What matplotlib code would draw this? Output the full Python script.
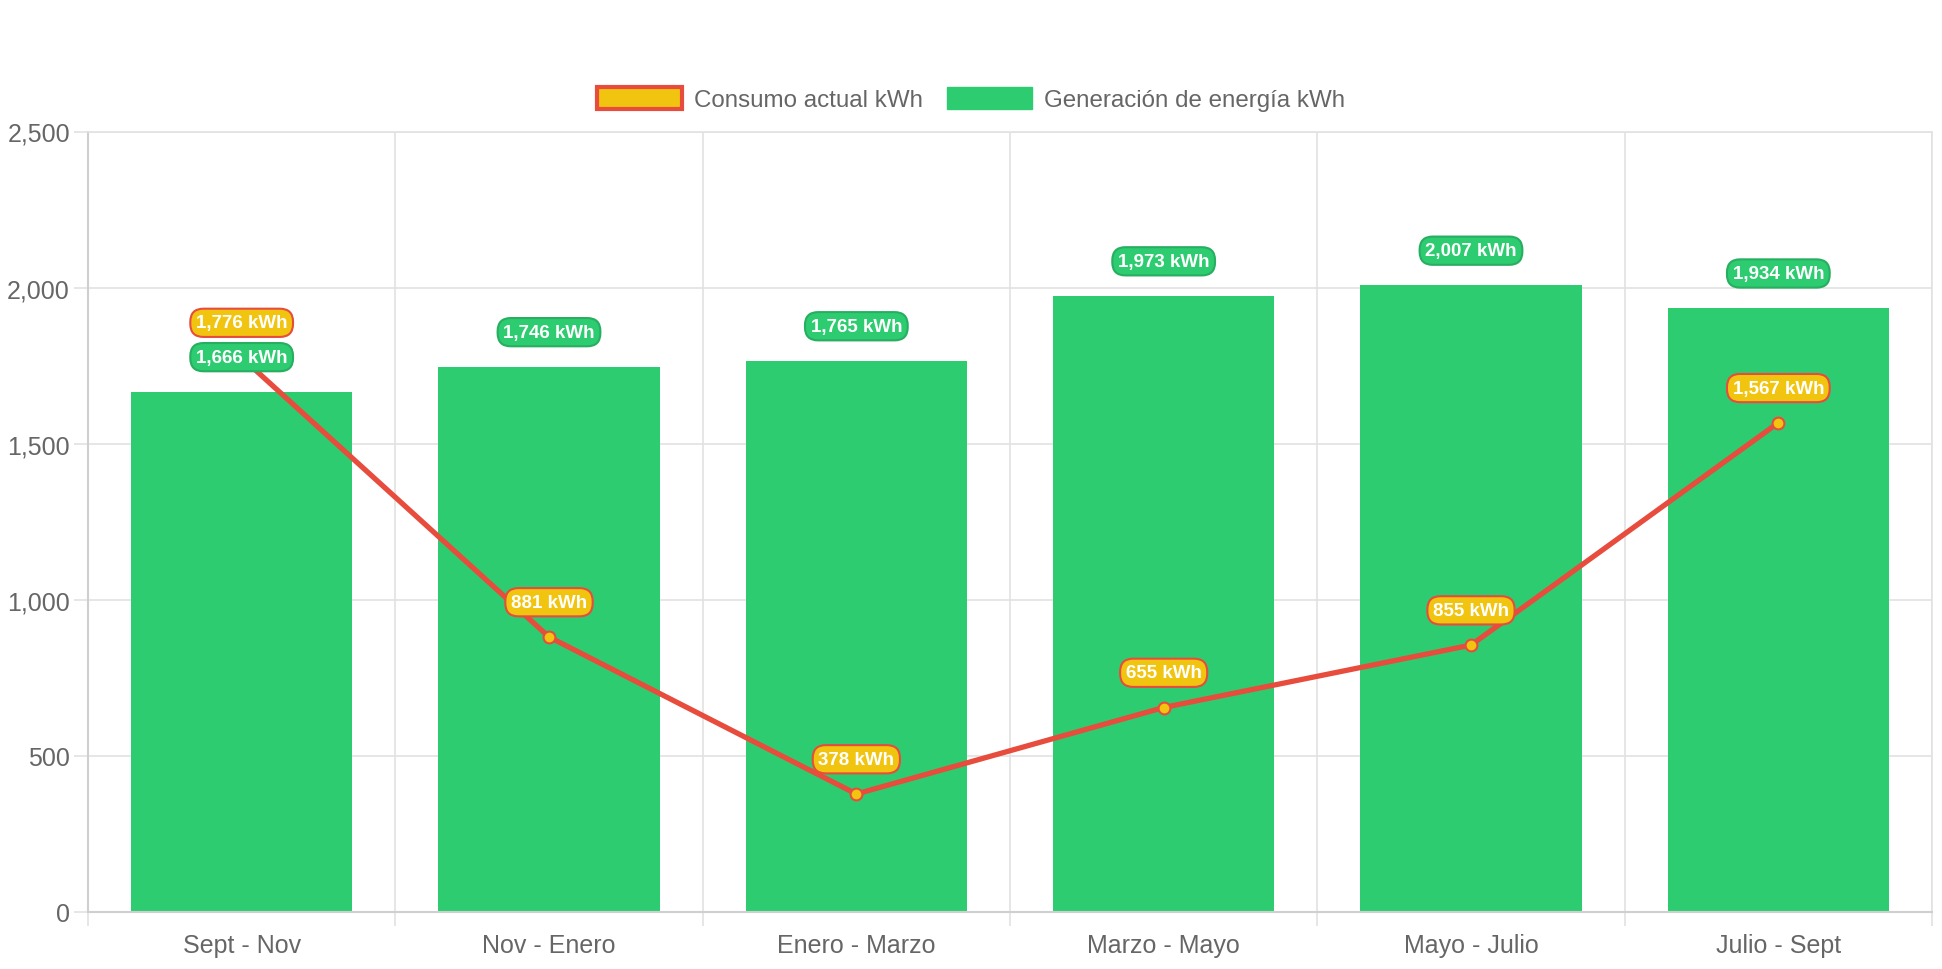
import matplotlib
matplotlib.use("Agg")
import matplotlib.pyplot as plt
from matplotlib.patches import Patch
import numpy as np

# Data
periodos = ["Sept - Nov", "Nov - Enero", "Enero - Marzo", "Marzo - Mayo", "Mayo - Julio", "Julio - Sept"]
generacion = [1666, 1746, 1765, 1973, 2007, 1934]
consumo = [1776, 881, 378, 655, 855, 1567]

verde = "#2ecc71"
verde_borde = "#27ae60"
amarillo = "#f1c40f"
rojo = "#e74c3c"
gris_txt = "#666666"
gris_grid = "#e2e2e2"

plt.rcParams["font.family"] = ["Liberation Sans", "DejaVu Sans"]

fig = plt.figure(figsize=(19.42, 9.70), dpi=100)
ax = fig.add_axes([88 / 1942, 1 - 913 / 970, (1932 - 88) / 1942, (913 - 132.5) / 970])

x = np.arange(len(periodos))
ax.bar(x, generacion, width=0.72, color=verde, zorder=2)
ax.plot(x, consumo, color=rojo, linewidth=3.8, marker="o", markersize=8.5,
        markerfacecolor=amarillo, markeredgecolor=rojo, markeredgewidth=1.5, zorder=3)

def etiqueta(xv, yv, fc, ec, z):
    ax.annotate(f"{yv:,} kWh", (xv, yv), xytext=(0, 25), textcoords="offset points",
                ha="center", va="center", color="white", fontsize=13.5, fontweight="bold",
                bbox=dict(boxstyle="round,pad=0.3,rounding_size=0.7", fc=fc, ec=ec, lw=1.5),
                zorder=z)

for xv, yv in zip(x, consumo):
    etiqueta(xv, yv, amarillo, rojo, 4)
for xv, yv in zip(x, generacion):
    etiqueta(xv, yv, verde, verde_borde, 5)

ax.set_xlim(-0.5, len(periodos) - 0.5)
ax.set_ylim(0, 2500)
ax.set_yticks(range(0, 2501, 500))
ax.set_yticklabels([f"{v:,}" for v in range(0, 2501, 500)])
ax.set_xticks(x)
ax.set_xticklabels(periodos)
ax.set_xticks(np.arange(-0.5, len(periodos)), minor=True)

ax.grid(axis="y", which="major", color=gris_grid, linewidth=1.2, zorder=0)
ax.grid(axis="x", which="minor", color=gris_grid, linewidth=1.2, zorder=0)
ax.set_axisbelow(True)

ax.tick_params(axis="x", which="major", length=0, pad=15, labelsize=18, labelcolor=gris_txt)
ax.tick_params(axis="x", which="minor", length=10, color=gris_grid, width=1.2)
ax.tick_params(axis="y", length=10, color=gris_grid, width=1.2, pad=3, labelsize=18, labelcolor=gris_txt)

for s in ["left", "bottom"]:
    ax.spines[s].set_color("#cfcfcf")
    ax.spines[s].set_linewidth(1.5)
for s in ["top", "right"]:
    ax.spines[s].set_color(gris_grid)
    ax.spines[s].set_linewidth(1.2)

handles = [Patch(facecolor=amarillo, edgecolor=rojo, linewidth=3, label="Consumo actual kWh"),
           Patch(facecolor=verde, edgecolor=verde, label="Generación de energía kWh")]
leg = fig.legend(handles=handles, loc="center", bbox_to_anchor=(0.5, 1 - 100 / 970), ncol=2,
                 frameon=False, fontsize=17.4, handlelength=3.5, handleheight=1.0,
                 handletextpad=0.5, columnspacing=1.0, labelcolor=gris_txt)

fig.savefig("out.png", dpi=100)
